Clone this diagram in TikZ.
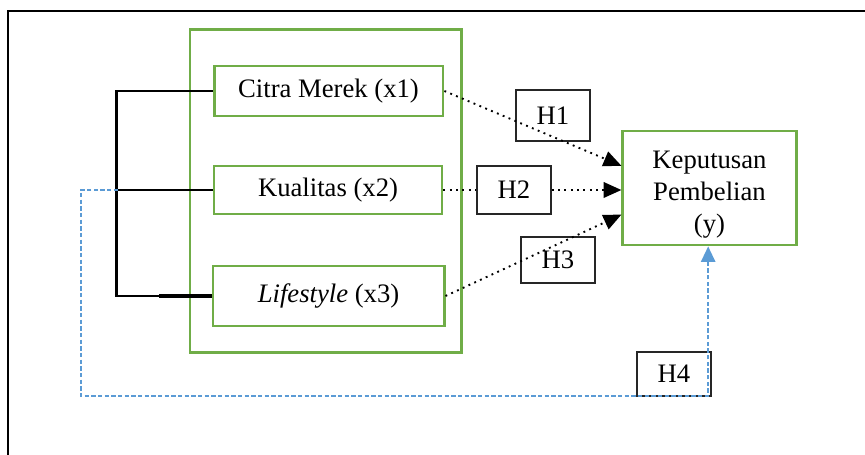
\documentclass[tikz,border=0pt]{standalone}
\usepackage{fontspec}
\setmainfont{Liberation Serif}
\usetikzlibrary{arrows.meta}
\definecolor{vargreen}{HTML}{70AD47}
\definecolor{hblue}{HTML}{5B9BD5}

\begin{document}
\begin{tikzpicture}[
  x=0.45pt, y=-0.45pt,
  varbox/.style={rectangle, draw=vargreen, line width=1.3pt, align=center, inner sep=0pt},
  hbox/.style={rectangle, draw=black!85, line width=0.7pt, minimum width=33.3pt, inner sep=0pt},
  link/.style={dotted, line width=0.85pt},
  tip/.style={-{Triangle[length=8pt,width=7pt]}},
  bracket/.style={line width=1.1pt},
  font=\fontsize{12}{14.5}\selectfont
]
\useasboundingbox (0,0) rectangle (865,455);
\draw[line width=1.2pt] (8,455) |- (865,11);

% Variables
\node[varbox, minimum width=122pt, minimum height=145pt] (grp) at (325.5,191) {};
\node[varbox, minimum width=103pt, minimum height=22.5pt] (x1) at (328.5,91) {Citra Merek (x1)};
\node[varbox, minimum width=102.6pt, minimum height=21.6pt] (x2) at (328,190) {Kualitas (x2)};
\node[varbox, minimum width=104pt, minimum height=27pt] (x3) at (328.5,296) {\textit{Lifestyle} (x3)};
\node[varbox, minimum width=78pt, minimum height=51.3pt] (y) at (709.5,188)
  {\rule{0pt}{14pt}Keputusan\\Pembelian\\(y)};

% Hypotheses
\node[hbox, minimum height=23pt] (h1) at (553,115.5) {H1};
\node[hbox, minimum height=21.6pt] (h2) at (514,190) {H2};
\node[hbox, minimum height=20.7pt] (h3) at (558,260) {H3};
\node[hbox, minimum height=19.8pt] (h4) at (674,374) {H4};

% Bracket
\coordinate (mid) at (118,190);
\draw[bracket] (x1.west) -- ++(-96,0) |- (x3.west);
\draw[bracket] (x2.west) -- (mid);
\draw[bracket, line width=1.6pt] (x3.west) -- ++(-53,0);

% Arrows
\draw[link, tip] (x1.east) -- ([yshift=10pt]y.west);
\draw[link] (x2.east) -- (h2.west);
\draw[link, tip] (h2.east) -- (h2.east -| y.west);
\draw[link, tip] (x3.east) -- ([yshift=-12pt]y.west);

% Simultaneous path
\coordinate (bl) at (81,396);
\draw[hblue, line width=0.7pt, dash pattern=on 2pt off 1pt,
  -{Triangle[length=7pt,width=6.5pt]}] (mid) -| (bl) -| ([xshift=-0.6pt]y.south);
\end{tikzpicture}
\end{document}
